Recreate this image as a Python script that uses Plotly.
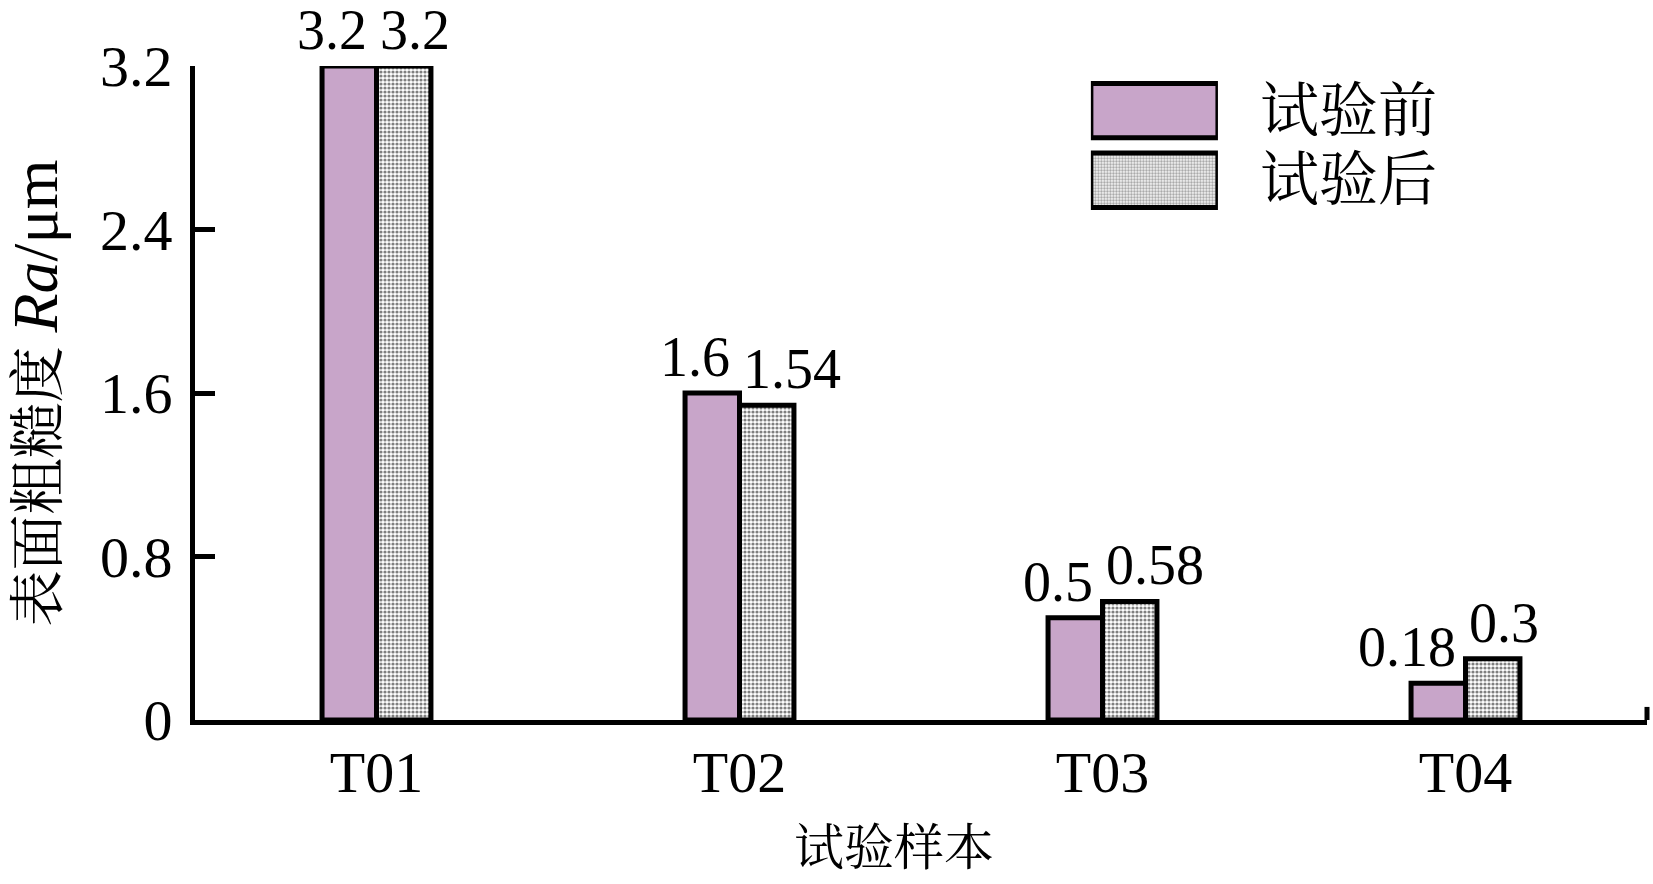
import plotly.graph_objects as go

categories = ["T01", "T02", "T03", "T04"]
before = [3.2, 1.6, 0.5, 0.18]
after = [3.2, 1.54, 0.58, 0.3]
before_labels = ["3.2", "1.6", "0.5", "0.18"]
after_labels = ["3.2", "1.54", "0.58", "0.3"]
series_names = ["试验前", "试验后"]
y_ticks = [0, 0.8, 1.6, 2.4, 3.2]
y_tick_text = ["0", "0.8", "1.6", "2.4", "3.2"]
x_title = "试验样本"
y_title = "表面粗糙度 <span style='font-size:64px'><i>Ra</i>/μm</span>"

PURPLE = "#C8A5C9"
FONT = "Liberation Serif, Noto Serif CJK SC, Noto Sans CJK SC, serif"
LW = 5
BARGAP = 0.7

fig = go.Figure()

fig.add_trace(go.Bar(
    x=categories, y=before, name=series_names[0],
    marker=dict(color=PURPLE, line=dict(color="black", width=LW)),
    showlegend=False, cliponaxis=False,
))
fig.add_trace(go.Bar(
    x=categories, y=after, name=series_names[1],
    marker=dict(color="white", line=dict(color="black", width=LW),
                pattern=dict(shape=".", fgcolor="black", bgcolor="white",
                             size=4, solidity=0.5, fillmode="overlay")),
    showlegend=False, cliponaxis=False,
))

# value labels: "before" label ends at the group centre, "after" label starts there
for i, (b, a, bl, al) in enumerate(zip(before, after, before_labels, after_labels)):
    fig.add_annotation(x=i, y=b, text=bl, xref="x", yref="y",
                       showarrow=False, yanchor="bottom", xanchor="right",
                       xshift=-8, yshift=3,
                       font=dict(family=FONT, size=56, color="black"))
    fig.add_annotation(x=i, y=a, text=al, xref="x", yref="y",
                       showarrow=False, yanchor="bottom", xanchor="left",
                       xshift=1, yshift=3,
                       font=dict(family=FONT, size=56, color="black"))

# legend drawn as a small bar panel
fig.add_trace(go.Bar(
    x=[1, 1], y=series_names, orientation="h", width=[0.78, 0.78],
    xaxis="x3", yaxis="y3", showlegend=False, hoverinfo="skip",
    marker=dict(color=[PURPLE, "white"], line=dict(color="black", width=LW),
                pattern=dict(shape=["", "."], fgcolor="black", bgcolor="white",
                             size=3, solidity=0.5, fillmode="overlay")),
))
for name in series_names:
    fig.add_annotation(x=1, y=name, xref="x3", yref="y3", text=name,
                       showarrow=False, xanchor="left", yanchor="middle",
                       xshift=40, font=dict(family=FONT, size=59, color="black"))

# x-axis title (sits slightly left of the plot centre in the reference)
fig.add_annotation(x=0.5, y=0, xref="x domain", yref="y domain", text=x_title,
                   showarrow=False, xanchor="center", yanchor="middle",
                   xshift=-27, yshift=-128,
                   font=dict(family=FONT, size=50, color="black"))

# small closing tick at the right end of the x axis
fig.add_shape(type="line", xref="x domain", yref="y domain",
              x0=1, x1=1, y0=0, y1=0.02,
              line=dict(color="black", width=LW))

fig.update_layout(
    width=1653, height=884,
    margin=dict(l=195, r=6, t=66, b=164),
    paper_bgcolor="white", plot_bgcolor="white",
    barmode="group", bargap=BARGAP, bargroupgap=0,
    font=dict(family=FONT, color="black"),
    xaxis=dict(
        type="category", range=[-0.5, 3.5],
        showline=True, linecolor="black", linewidth=LW,
        ticks="", showgrid=False, zeroline=False,
        tickfont=dict(family=FONT, size=58), ticklabelstandoff=-3,
    ),
    yaxis=dict(
        range=[0, 3.2], tickvals=y_ticks, ticktext=y_tick_text,
        showline=True, linecolor="black", linewidth=LW,
        ticks="inside", ticklen=20, tickwidth=LW, tickcolor="black",
        showgrid=False, zeroline=False,
        tickfont=dict(family=FONT, size=58), ticklabelstandoff=6,
        title=dict(text=y_title, font=dict(family=FONT, size=56), standoff=34),
    ),
    xaxis3=dict(domain=[0.617, 0.7045], anchor="y3", range=[0, 1],
                visible=False, fixedrange=True),
    yaxis3=dict(domain=[0.772, 0.985], anchor="x3", type="category",
                range=[1.5, -0.5], visible=False, fixedrange=True),
)

fig.write_html("out.html", config={"displayModeBar": False},
               post_script="document.body.style.margin='0';")
